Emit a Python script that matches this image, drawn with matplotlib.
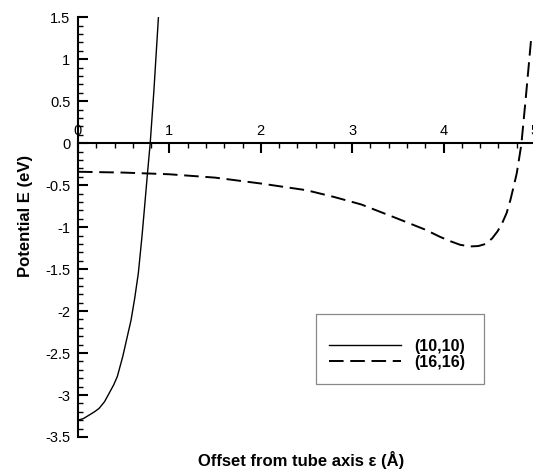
import matplotlib
matplotlib.use("Agg")
import matplotlib.pyplot as plt
from matplotlib.ticker import FixedLocator, MultipleLocator, FuncFormatter
from matplotlib.patches import Rectangle

plt.rcParams['font.family'] = ['Liberation Sans', 'DejaVu Sans']
plt.rcParams['axes.unicode_minus'] = False
plt.rcParams['lines.scale_dashes'] = False

# (10,10) tube
x_1010 = [0.0, 0.06, 0.12, 0.18, 0.23, 0.29, 0.34, 0.39, 0.43, 0.49, 0.54, 0.58, 0.62,
          0.66, 0.70, 0.73, 0.76, 0.79, 0.83, 0.88]
y_1010 = [-3.30, -3.28, -3.24, -3.20, -3.16, -3.08, -2.98, -2.88, -2.78, -2.54, -2.30, -2.11, -1.85,
          -1.55, -1.11, -0.74, -0.36, 0.0, 0.62, 1.5]

# (16,16) tube
x_1616 = [0.0, 0.5, 1.0, 1.5, 2.0, 2.5, 2.8, 3.1, 3.5, 3.8, 3.96, 4.08, 4.18, 4.29, 4.38, 4.46,
          4.53, 4.59, 4.64, 4.69, 4.73, 4.77, 4.80, 4.85, 4.90, 4.96]
y_1616 = [-0.34, -0.35, -0.37, -0.41, -0.48, -0.56, -0.64, -0.73, -0.90, -1.03, -1.115, -1.17, -1.21,
          -1.23, -1.225, -1.20, -1.135, -1.05, -0.955, -0.83, -0.68, -0.50, -0.36, -0.02, 0.55, 1.27]

labels = ['(10,10)', '(16,16)']
x_major = [0, 1, 2, 3, 4, 5]
y_major = [1.5, 1, 0.5, 0, -0.5, -1, -1.5, -2, -2.5, -3, -3.5]

W, H = 533, 473
fig = plt.figure(figsize=(W / 100, H / 100), dpi=100)
ax = fig.add_axes([78 / W, 36 / H, 457 / W, 419.7 / H])

ax.plot(x_1010, y_1010, color='black', lw=1.0, label=labels[0])
ax.plot(x_1616, y_1616, color='black', lw=1.4, dashes=(10.5, 4.8), label=labels[1])

ax.set_xlim(0, 5.0)
ax.set_ylim(-3.5, 1.5)

for s in ['right', 'bottom']:
    ax.spines[s].set_visible(False)
ax.spines['top'].set_position(('data', 0))
ax.spines['top'].set_linewidth(1.5)
ax.spines['left'].set_linewidth(1.5)

ax.xaxis.set_ticks_position('top')
ax.xaxis.set_label_position('bottom')
ax.xaxis.set_major_locator(FixedLocator(x_major))
ax.xaxis.set_minor_locator(MultipleLocator(0.2))
ax.yaxis.set_major_locator(FixedLocator(y_major))
ax.yaxis.set_minor_locator(MultipleLocator(0.1))
fmt = FuncFormatter(lambda v, p: '%g' % v)
ax.xaxis.set_major_formatter(fmt)
ax.yaxis.set_major_formatter(fmt)

ax.tick_params(axis='x', which='major', direction='in', length=7, width=1.5, pad=3.5, labelsize=10.5)
ax.tick_params(axis='x', which='minor', direction='in', length=3.8, width=1.0)
ax.tick_params(axis='y', which='major', direction='in', length=7, width=1.5, pad=5.5, labelsize=10.5)
ax.tick_params(axis='y', which='minor', direction='in', length=3.8, width=1.0)
for t in ax.get_xticklabels() + ax.get_yticklabels():
    t.set_clip_on(False)

ax.set_xlabel('Offset from tube axis ε (Å)', fontsize=12, fontweight='bold')
ax.set_ylabel('Potential E (eV)', fontsize=12, fontweight='bold')
ax.xaxis.set_label_coords(0.488, -0.033)
ax.yaxis.set_label_coords(-0.098, 0.527)

# legend frame
x0, x1 = (315.7 - 78) / 457, (484.3 - 78) / 457
y0, y1 = (473 - 384 - 36) / 419.7, (473 - 314.3 - 36) / 419.7
ax.add_patch(Rectangle((x0, y0), x1 - x0, y1 - y0, transform=ax.transAxes,
                       fill=False, edgecolor='#888888', lw=0.9, zorder=5))
leg = ax.legend(loc='center left', bbox_to_anchor=(x0, 0.197), frameon=False,
                prop={'weight': 'bold', 'size': 11.5}, handlelength=4.5, handletextpad=0.85,
                labelspacing=0.08, borderpad=0, borderaxespad=0.85)

fig.savefig('out.png', dpi=100)
